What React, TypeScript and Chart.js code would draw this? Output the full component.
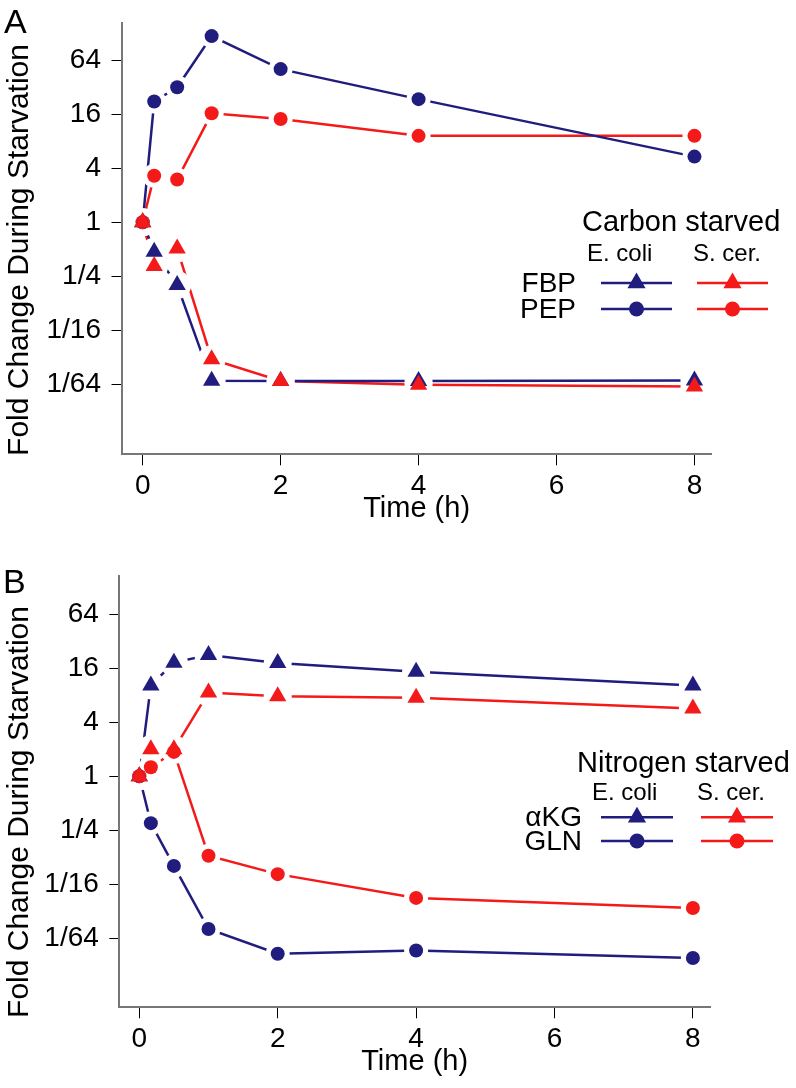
import React, { useEffect, useRef } from 'react';
import { Chart, registerables } from 'chart.js';

Chart.register(...registerables);

// ---------- data ----------
const TIMES = [0, 0.167, 0.5, 1, 2, 4, 8];
const X_TICKS = [0, 2, 4, 6, 8];
const Y_TICKS = [1 / 64, 1 / 16, 1 / 4, 1, 4, 16, 64];
const Y_TICK_LABELS = ['1/64', '1/16', '1/4', '1', '4', '16', '64'];

// Panel A: carbon starved (fold change)
const FBP_ECOLI = [1, 0.47, 0.2, 0.0171, 0.017, 0.017, 0.0172];
const FBP_SCER = [1, 0.325, 0.51, 0.0298, 0.017, 0.0155, 0.0148];
const PEP_ECOLI = [1, 22.2, 32, 119, 51, 23.6, 5.4];
const PEP_SCER = [1, 3.3, 3.0, 16.4, 14.2, 9.2, 9.2];

// Panel B: nitrogen starved (fold change)
const AKG_ECOLI = [1, 10.3, 18.5, 22.5, 18.3, 14.6, 10.3];
const AKG_SCER = [1, 2.0, 2.0, 8.6, 7.8, 7.5, 5.7];
const GLN_ECOLI = [1, 0.3, 0.1, 0.0198, 0.0105, 0.0114, 0.0094];
const GLN_SCER = [1, 1.26, 1.87, 0.13, 0.081, 0.044, 0.034];

// ---------- style ----------
const BLUE = '#211d7f';
const RED = '#f41a1a';
const FONT = "'Liberation Sans', Arial, Helvetica, sans-serif";
const TRI_R = 10;
const CIR_R = 7;

function seriesSets(vals: number[], color: string, shape: string, markerOrder: number) {
  const data = TIMES.map((t, i) => ({ x: t, y: vals[i] }));
  const r = shape === 'triangle' ? TRI_R : CIR_R;
  const halo = shape === 'triangle' ? 14 : 12;
  return [
    { data, borderColor: color, borderWidth: 2.5, pointRadius: 0, order: 3, fill: false, tension: 0 },
    { data, showLine: false, pointRadius: halo, pointBackgroundColor: '#ffffff', pointBorderWidth: 0, pointBorderColor: '#ffffff', order: 2 },
    { data, showLine: false, pointStyle: shape, pointRadius: r, pointBackgroundColor: color, pointBorderColor: color, pointBorderWidth: 0, order: markerOrder },
  ];
}

function drawMarker(ctx: CanvasRenderingContext2D, shape: string, x: number, y: number, r: number, color: string) {
  ctx.fillStyle = color;
  ctx.beginPath();
  if (shape === 'triangle') {
    for (let k = 0; k < 3; k++) {
      const a = (k * 2 * Math.PI) / 3;
      const px = x + Math.sin(a) * r;
      const py = y - Math.cos(a) * r;
      if (k === 0) ctx.moveTo(px, py);
      else ctx.lineTo(px, py);
    }
    ctx.closePath();
  } else {
    ctx.arc(x, y, r, 0, Math.PI * 2);
  }
  ctx.fill();
}

function makeOverlay(cfg: any) {
  return {
    id: 'overlay' + cfg.letter,
    afterDraw(chart: any) {
      const ctx: CanvasRenderingContext2D = chart.ctx;
      ctx.save();
      ctx.fillStyle = '#000';
      ctx.textBaseline = 'alphabetic';
      ctx.textAlign = 'left';
      ctx.font = `34px ${FONT}`;
      ctx.fillText(cfg.letter, cfg.letterX, cfg.letterY);
      // y-axis title
      ctx.save();
      ctx.translate(cfg.yTitleX, cfg.yTitleY);
      ctx.rotate(-Math.PI / 2);
      ctx.textAlign = 'center';
      ctx.font = `30px ${FONT}`;
      ctx.fillText('Fold Change During Starvation', 0, 0);
      ctx.restore();
      ctx.font = `29px ${FONT}`;
      ctx.fillText(cfg.heading, cfg.headingX, cfg.headingY);
      ctx.font = `24px ${FONT}`;
      cfg.sub.forEach((s: any) => ctx.fillText(s.text, s.x, cfg.subY));
      ctx.font = `28px ${FONT}`;
      ctx.textAlign = 'right';
      ctx.textBaseline = 'middle';
      cfg.rows.forEach((row: any) => {
        ctx.fillStyle = '#000';
        ctx.fillText(row.label, cfg.labelRight, row.y + 1);
        cfg.samples.forEach((s: any) => {
          ctx.strokeStyle = s.color;
          ctx.lineWidth = 2.5;
          ctx.beginPath();
          ctx.moveTo(s.x1, row.y);
          ctx.lineTo(s.x2, row.y);
          ctx.stroke();
          drawMarker(ctx, row.shape, s.mx, row.y, row.shape === 'triangle' ? 10.5 : 7.5, s.color);
        });
      });
      ctx.restore();
    },
  };
}

function buildOptions(p: any) {
  return {
    responsive: false,
    animation: false,
    devicePixelRatio: 1,
    events: [],
    layout: { padding: p.padding, autoPadding: false },
    plugins: { legend: { display: false }, tooltip: { enabled: false } },
    scales: {
      x: {
        type: 'linear',
        min: p.xMin,
        max: p.xMax,
        afterBuildTicks: (s: any) => {
          s.ticks = X_TICKS.map((v) => ({ value: v }));
        },
        afterFit: (s: any) => {
          s.height = 70;
          s.paddingLeft = 0;
          s.paddingRight = 0;
        },
        ticks: {
          font: { size: 28, family: FONT },
          color: '#000',
          padding: 4,
          maxRotation: 0,
          autoSkip: false,
          callback: (v: any) => String(v),
        },
        grid: { drawOnChartArea: false, tickLength: 11, color: '#000', lineWidth: 1 },
        border: { color: '#777777', width: 2 },
        title: {
          display: true,
          text: 'Time (h)',
          color: '#000',
          font: { size: 29, family: FONT, lineHeight: 1 },
          padding: { top: 0, bottom: 1 },
        },
      },
      y: {
        type: 'logarithmic',
        min: p.yMin,
        max: p.yMax,
        afterBuildTicks: (s: any) => {
          s.ticks = Y_TICKS.map((v) => ({ value: v }));
        },
        afterFit: (s: any) => {
          s.width = p.yWidth;
          s.paddingTop = 0;
          s.paddingBottom = 0;
        },
        ticks: {
          font: { size: 28, family: FONT },
          color: '#000',
          padding: 10.5,
          autoSkip: false,
          callback: (_v: any, i: number) => Y_TICK_LABELS[i],
        },
        grid: { drawOnChartArea: false, tickLength: 10, color: '#000', lineWidth: 1 },
        border: { color: '#777777', width: 2 },
        title: { display: false },
      },
    },
  };
}

function Panel({ top, height, datasets, params, overlay }: any) {
  const ref = useRef<HTMLCanvasElement>(null);
  useEffect(() => {
    if (!ref.current) return;
    const chart = new Chart(ref.current, {
      type: 'line',
      data: { datasets },
      options: buildOptions(params) as any,
      plugins: [overlay],
    } as any);
    return () => chart.destroy();
  }, []);
  return (
    <canvas
      ref={ref}
      width={796}
      height={height}
      style={{ position: 'absolute', left: 0, top, width: 796, height }}
    />
  );
}

const datasetsA = [
  ...seriesSets(FBP_ECOLI, BLUE, 'triangle', 1.2),
  ...seriesSets(FBP_SCER, RED, 'triangle', 1),
  ...seriesSets(PEP_ECOLI, BLUE, 'circle', 1.4),
  ...seriesSets(PEP_SCER, RED, 'circle', 1.3),
];

const datasetsB = [
  ...seriesSets(AKG_ECOLI, BLUE, 'triangle', 1.2),
  ...seriesSets(AKG_SCER, RED, 'triangle', 1),
  ...seriesSets(GLN_ECOLI, BLUE, 'circle', 1.4),
  ...seriesSets(GLN_SCER, RED, 'circle', 1.3),
];

const paramsA = {
  xMin: -0.307,
  xMax: 8.25,
  yMin: Math.pow(2, -8.59),
  yMax: Math.pow(2, 7.38),
  yWidth: 121.5,
  padding: { top: 23, left: 0, right: 84.3, bottom: 5.7 },
};

const paramsB = {
  xMin: -0.289,
  xMax: 8.247,
  yMin: Math.pow(2, -8.56),
  yMax: Math.pow(2, 7.42),
  yWidth: 119.3,
  padding: { top: 41, left: 0, right: 86, bottom: 10.7 },
};

const overlayA = makeOverlay({
  letter: 'A',
  letterX: 4,
  letterY: 33,
  yTitleX: 28,
  yTitleY: 250,
  heading: 'Carbon starved',
  headingX: 582,
  headingY: 231,
  sub: [
    { text: 'E. coli', x: 587 },
    { text: 'S. cer.', x: 693 },
  ],
  subY: 261,
  labelRight: 576,
  rows: [
    { label: 'FBP', y: 283, shape: 'triangle' },
    { label: 'PEP', y: 309, shape: 'circle' },
  ],
  samples: [
    { x1: 601, x2: 672, mx: 636.5, color: BLUE },
    { x1: 697, x2: 768, mx: 732.5, color: RED },
  ],
});

const overlayB = makeOverlay({
  letter: 'B',
  letterX: 3,
  letterY: 58,
  yTitleX: 28,
  yTitleY: 277,
  heading: 'Nitrogen starved',
  headingX: 577,
  headingY: 237,
  sub: [
    { text: 'E. coli', x: 592 },
    { text: 'S. cer.', x: 697 },
  ],
  subY: 265,
  labelRight: 582,
  rows: [
    { label: 'αKG', y: 282.3, shape: 'triangle' },
    { label: 'GLN', y: 306, shape: 'circle' },
  ],
  samples: [
    { x1: 601, x2: 673, mx: 637, color: BLUE },
    { x1: 701, x2: 773, mx: 737, color: RED },
  ],
});

export default function App() {
  return (
    <div style={{ position: 'absolute', left: 0, top: 0, width: 796, height: 1088, background: '#ffffff', overflow: 'hidden' }}>
      <Panel top={0} height={530} datasets={datasetsA} params={paramsA} overlay={overlayA} />
      <Panel top={535} height={553} datasets={datasetsB} params={paramsB} overlay={overlayB} />
    </div>
  );
}
